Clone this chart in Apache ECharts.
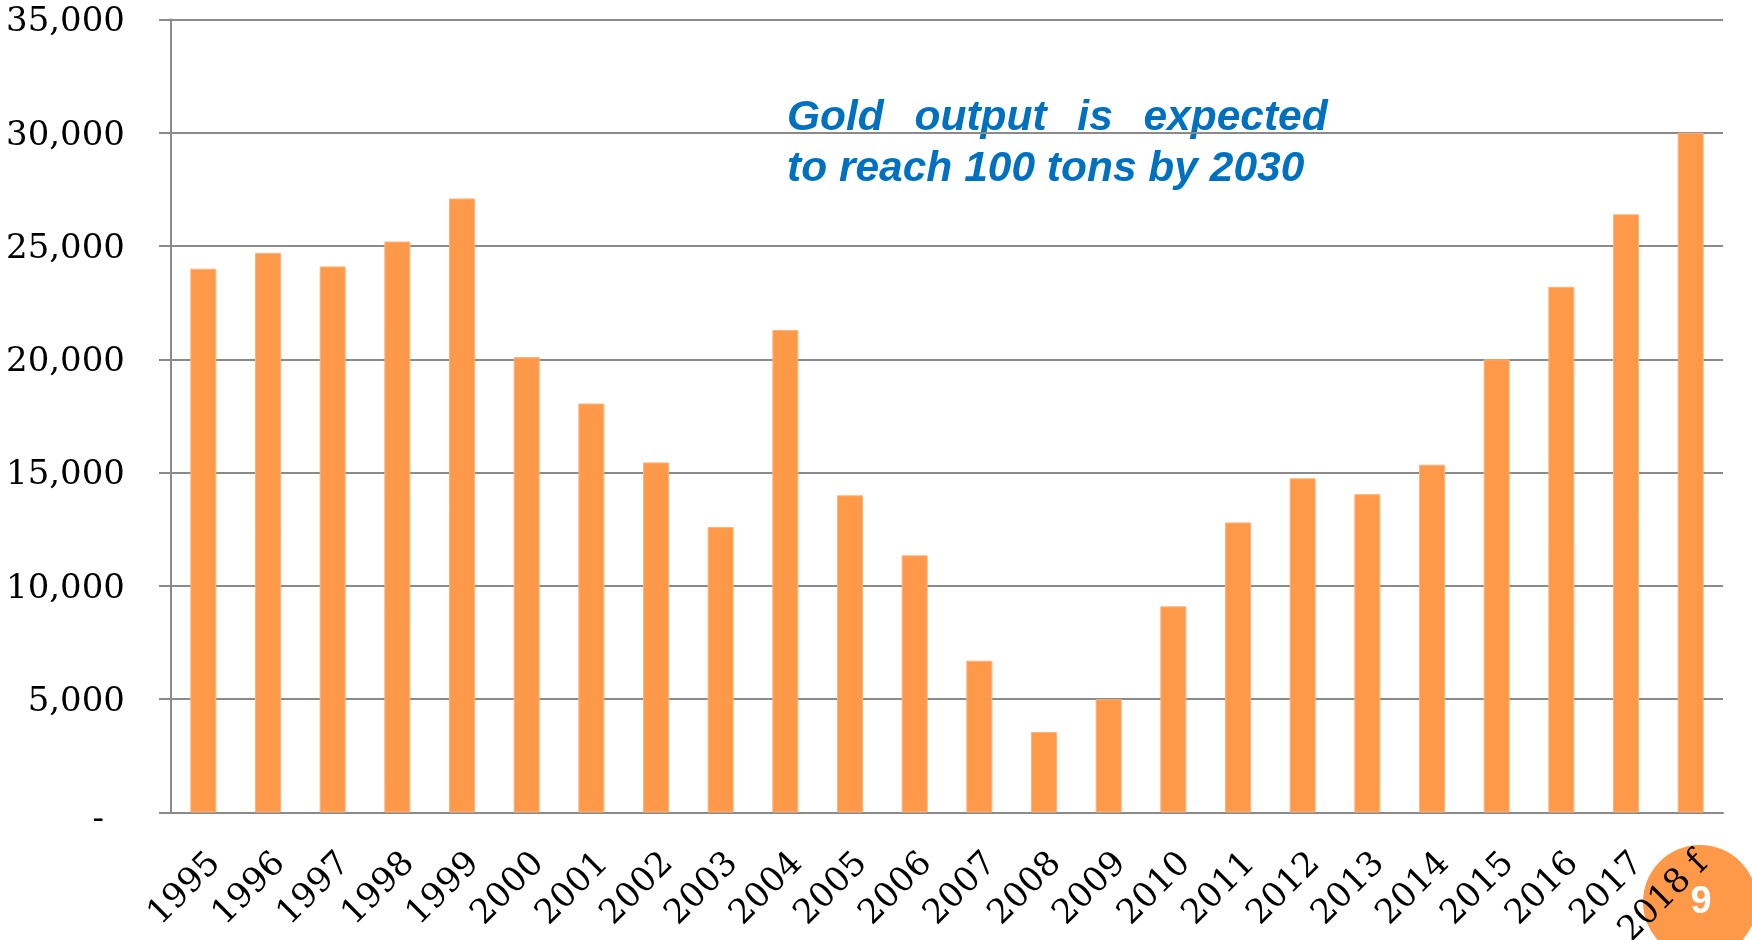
<!DOCTYPE html>
<html>
<head>
<meta charset="utf-8">
<script src="https://cdn.jsdelivr.net/npm/echarts@6/dist/echarts.min.js"></script>
<style>
  html, body { margin: 0; padding: 0; background: #fff; }
  #chart { width: 1752px; height: 940px; }
</style>
</head>
<body>
<div id="chart"></div>
<script>
const years = [
  "1995", "1996", "1997", "1998", "1999", "2000", "2001", "2002",
  "2003", "2004", "2005", "2006", "2007", "2008", "2009", "2010",
  "2011", "2012", "2013", "2014", "2015", "2016", "2017", "2018 f",
];
const output = [
  24000, 24700, 24100, 25200, 27100, 20100, 18050, 15450,
  12600, 21300, 14000, 11350, 6700, 3550, 5000, 9100,
  12800, 14750, 14050, 15350, 20000, 23200, 26400, 30000,
];
const noteLines = [
  "Gold  \u2006output  \u2006is  \u2006expected",
  "to reach 100 tons by 2030",
];
const pageNumber = "9";

const gray = "#8a8a8a";
const orange = "#FF994A";
const serif = "DejaVu Serif";

const chart = echarts.init(document.getElementById("chart"));

const options = {
  animation: false,
  grid: {
    left: 171,
    right: 29,
    top: 19.5,
    bottom: 127.5,
    outerBoundsMode: "none",
    containLabel: false,
  },
  xAxis: {
    type: "category",
    data: years,
    axisLine: { lineStyle: { color: gray, width: 2 } },
    axisTick: { length: 12, lineStyle: { color: gray, width: 2 } },
    axisLabel: {
      rotate: 45,
      margin: 34,
      verticalAlign: "top",
      color: "#000",
      fontFamily: serif,
      fontSize: 34,
      interval: 0,
    },
  },
  yAxis: {
    type: "value",
    min: 0,
    max: 35000,
    interval: 5000,
    axisLine: { show: true, lineStyle: { color: gray, width: 2 } },
    axisTick: { show: true, length: 12, lineStyle: { color: gray, width: 2 } },
    splitLine: { lineStyle: { color: gray, width: 2 } },
    axisLabel: {
      margin: 46,
      color: "#000",
      fontFamily: serif,
      fontSize: 34,
      padding: [6, 0, 0, 0],
      formatter: (value) => {
        if (value === 0) {
          return "{z|-}";
        }
        return value.toLocaleString("en-US");
      },
      rich: {
        z: {
          fontFamily: serif,
          fontSize: 34,
          color: "#000",
          padding: [10, 21, 0, 0],
        },
      },
    },
  },
  series: [
    {
      name: "Gold output",
      type: "bar",
      data: output,
      barWidth: 26,
      itemStyle: { color: orange, borderColor: "#FFB27A", borderWidth: 1 },
    },
  ],
  graphic: [
    {
      type: "text",
      left: 787,
      top: 93,
      style: {
        text: noteLines.join("\n"),
        fill: "#0070C0",
        font: "italic bold 42.5px 'Liberation Sans', Arial, sans-serif",
        lineHeight: 51,
      },
    },
    {
      type: "circle",
      shape: { cx: 1700, cy: 902, r: 57 },
      style: { fill: orange },
      z: -10,
    },
    {
      type: "text",
      x: 1701,
      y: 903,
      style: {
        text: pageNumber,
        fill: "#fff",
        font: "bold 38px 'Liberation Sans', Arial, sans-serif",
        align: "center",
        verticalAlign: "middle",
      },
      z: 11,
    },
  ],
};

chart.setOption(options);
</script>
</body>
</html>
